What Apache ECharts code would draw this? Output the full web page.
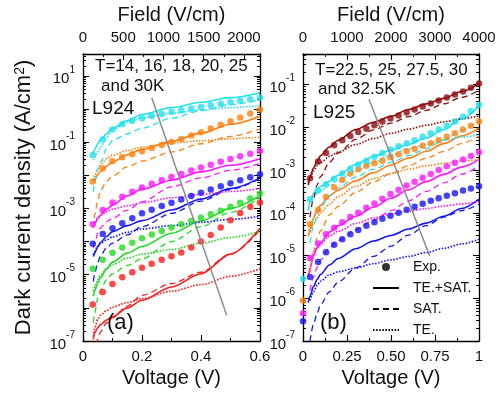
<!DOCTYPE html>
<html>
<head>
<meta charset="utf-8">
<script src="https://cdn.jsdelivr.net/npm/echarts@6/dist/echarts.min.js"></script>
<style>
  html, body { margin: 0; padding: 0; background: #fff; }
  #main { width: 503px; height: 394px; }
</style>
</head>
<body>
<div id="main"></div>
<script>
const FONT = '"Liberation Sans", Arial, Helvetica, sans-serif';

// ---------- panel (a): L924, T = 14, 16, 18, 20, 25, 30 K ----------
// all current values are log10 of J in A/cm2, one row per temperature
const colorsA = ['#ff1a1a', '#1fdc1f', '#1414ff', '#ff14ff', '#ff7f0e', '#1fe2ee'];
const vExpA = [0.033, 0.067, 0.1, 0.133, 0.167, 0.2, 0.233, 0.267, 0.3, 0.333, 0.367, 0.4, 0.433, 0.467, 0.5, 0.533, 0.567, 0.6];
const vFitA = [0.035, 0.04, 0.05, 0.06, 0.08, 0.1, 0.15, 0.2, 0.3, 0.4, 0.5, 0.6];
const expA = [
  [-5.9, -5.52, -5.28, -5.08, -4.93, -4.79, -4.67, -4.55, -4.44, -4.33, -4.18, -4.0, -3.8, -3.58, -3.36, -3.14, -2.95, -2.82],
  [-4.82, -4.55, -4.34, -4.18, -4.04, -3.9, -3.79, -3.68, -3.58, -3.48, -3.38, -3.28, -3.18, -3.07, -2.95, -2.83, -2.7, -2.55],
  [-4.07, -3.77, -3.6, -3.45, -3.3, -3.15, -3.04, -2.93, -2.83, -2.73, -2.63, -2.53, -2.43, -2.33, -2.24, -2.15, -2.06, -1.97],
  [-3.48, -3.05, -2.82, -2.65, -2.5, -2.37, -2.26, -2.15, -2.05, -1.96, -1.86, -1.77, -1.68, -1.59, -1.51, -1.43, -1.35, -1.27],
  [-2.19, -1.8, -1.58, -1.46, -1.37, -1.28, -1.18, -1.09, -1.0, -0.91, -0.8, -0.7, -0.59, -0.48, -0.37, -0.26, -0.14, -0.02],
  [-1.39, -0.92, -0.62, -0.46, -0.36, -0.28, -0.21, -0.15, -0.09, -0.04, 0.01, 0.06, 0.11, 0.16, 0.2, 0.25, 0.29, 0.34]
];
const teSatA = [
  [-6.9, -6.75, -6.6, -6.5, -6.37, -6.27, -6.0, -5.77, -5.37, -4.97, -4.38, -3.6],
  [-5.65, -5.48, -5.25, -5.08, -4.82, -4.62, -4.35, -4.15, -3.75, -3.38, -3.0, -2.62],
  [-4.45, -4.34, -4.15, -4.02, -3.85, -3.7, -3.52, -3.37, -3.05, -2.72, -2.4, -2.08],
  [-3.55, -3.45, -3.3, -3.2, -3.02, -2.9, -2.62, -2.42, -2.15, -1.9, -1.7, -1.5],
  [-2.2, -2.12, -1.98, -1.88, -1.72, -1.6, -1.38, -1.22, -0.98, -0.73, -0.46, -0.22],
  [-1.35, -1.22, -1.05, -0.92, -0.75, -0.58, -0.35, -0.17, 0.04, 0.2, 0.34, 0.49]
];
const satA = [
  [null, -7.4, -6.95, -6.72, -6.45, -6.3, -5.95, -5.62, -5.27, -4.92, -4.38, -3.65],
  [-6.45, -6.15, -5.7, -5.45, -5.15, -4.97, -4.72, -4.52, -4.0, -3.55, -3.12, -2.68],
  [-5.2, -4.95, -4.62, -4.42, -4.18, -4.05, -3.8, -3.55, -3.15, -2.78, -2.43, -2.1],
  [-4.2, -4.05, -3.75, -3.58, -3.4, -3.3, -3.05, -2.8, -2.35, -2.08, -1.85, -1.65],
  [-3.6, -3.18, -2.75, -2.45, -2.18, -2.02, -1.75, -1.57, -1.3, -1.05, -0.83, -0.6],
  [-2.5, -2.2, -1.85, -1.6, -1.2, -0.95, -0.75, -0.58, -0.28, -0.05, 0.13, 0.28]
];
const teA = [
  [-6.95, -6.6, -6.35, -6.22, -6.08, -5.98, -5.84, -5.72, -5.5, -5.3, -5.05, -4.82],
  [-5.5, -5.35, -5.15, -5.0, -4.82, -4.7, -4.5, -4.38, -4.24, -4.05, -3.88, -3.69],
  [-4.4, -4.3, -4.15, -4.05, -3.95, -3.86, -3.72, -3.62, -3.52, -3.42, -3.33, -3.24],
  [-3.5, -3.42, -3.3, -3.2, -3.1, -3.02, -2.92, -2.83, -2.68, -2.58, -2.49, -2.4],
  [-2.15, -2.0, -1.82, -1.68, -1.5, -1.4, -1.25, -1.15, -1.03, -0.96, -0.9, -0.85],
  [-1.55, -1.45, -1.3, -1.15, -0.85, -0.62, -0.4, -0.27, -0.13, -0.03, 0.04, 0.1]
];
const arrowA = [[0.487, -6.22], [0.233, 0.34]];

// ---------- panel (b): L925, T = 22.5, 25, 27.5, 30, 32.5 K ----------
const colorsB = ['#1414ff', '#ff14ff', '#ff7f0e', '#1fe2ee', '#8e0a0a'];
const vExpB = [0, 0.04, 0.086, 0.131, 0.177, 0.223, 0.269, 0.314, 0.36, 0.406, 0.451, 0.497, 0.543, 0.589, 0.634, 0.68, 0.726, 0.771, 0.817, 0.863, 0.909, 0.954, 1.0];
const vFitB = [0.03, 0.04, 0.06, 0.08, 0.1, 0.15, 0.2, 0.3, 0.4, 0.5, 0.6, 0.7, 0.8, 0.9, 1.0];
const expB = [
  [-6.54, -5.5, -5.15, -4.92, -4.75, -4.62, -4.5, -4.4, -4.3, -4.22, -4.14, -4.07, -4.0, -3.93, -3.86, -3.79, -3.72, -3.66, -3.6, -3.54, -3.48, -3.43, -3.38],
  [-6.35, -5.06, -4.72, -4.5, -4.35, -4.22, -4.1, -4.0, -3.88, -3.78, -3.67, -3.56, -3.46, -3.36, -3.27, -3.18, -3.09, -3.0, -2.91, -2.83, -2.75, -2.67, -2.58],
  [-6.05, -4.27, -3.93, -3.63, -3.4, -3.23, -3.08, -2.98, -2.9, -2.84, -2.78, -2.7, -2.63, -2.56, -2.5, -2.43, -2.37, -2.3, -2.22, -2.14, -2.05, -1.96, -1.86],
  [-5.55, -3.68, -3.48, -3.33, -3.2, -3.08, -2.97, -2.87, -2.78, -2.69, -2.6, -2.52, -2.44, -2.37, -2.3, -2.22, -2.14, -2.05, -1.96, -1.86, -1.75, -1.62, -1.47],
  [null, -3.19, -2.8, -2.6, -2.42, -2.3, -2.2, -2.11, -2.03, -1.95, -1.86, -1.79, -1.72, -1.65, -1.58, -1.51, -1.44, -1.37, -1.3, -1.23, -1.16, -1.07, -0.97]
];
const teSatB = [
  [-6.1, -5.95, -5.72, -5.56, -5.44, -5.22, -5.07, -4.84, -4.66, -4.53, -4.38, -4.24, -4.08, -3.9, -3.68],
  [-5.5, -5.29, -5.0, -4.82, -4.7, -4.45, -4.3, -4.08, -3.87, -3.66, -3.46, -3.27, -3.1, -2.93, -2.75],
  [-4.55, -4.37, -4.12, -3.95, -3.82, -3.6, -3.47, -3.25, -3.06, -2.88, -2.72, -2.56, -2.38, -2.2, -2.01],
  [-3.95, -3.72, -3.55, -3.45, -3.38, -3.26, -3.12, -2.87, -2.68, -2.53, -2.4, -2.25, -2.05, -1.8, -1.5],
  [-3.35, -3.15, -2.95, -2.8, -2.66, -2.46, -2.3, -2.05, -1.88, -1.74, -1.58, -1.45, -1.32, -1.16, -0.97]
];
const satB = [
  [null, -7.0, -6.6, -6.35, -6.15, -5.85, -5.62, -5.29, -5.02, -4.78, -4.52, -4.3, -4.1, -3.95, -3.8],
  [null, -5.82, -5.5, -5.28, -5.1, -4.82, -4.65, -4.4, -4.17, -3.95, -3.72, -3.5, -3.3, -3.1, -2.9],
  [null, -5.4, -4.9, -4.6, -4.42, -4.05, -3.85, -3.52, -3.28, -3.08, -2.9, -2.72, -2.56, -2.38, -2.2],
  [null, -4.7, -4.3, -4.05, -3.88, -3.6, -3.42, -3.16, -2.98, -2.82, -2.66, -2.5, -2.3, -2.08, -1.83],
  [null, -4.1, -3.65, -3.35, -3.15, -2.82, -2.6, -2.28, -2.06, -1.9, -1.75, -1.6, -1.45, -1.3, -1.13]
];
const teB = [
  [null, -6.05, -5.85, -5.7, -5.6, -5.45, -5.38, -5.29, -5.19, -5.1, -5.02, -4.93, -4.83, -4.73, -4.62],
  [null, -5.13, -4.95, -4.82, -4.72, -4.55, -4.43, -4.25, -4.12, -4.03, -3.96, -3.9, -3.84, -3.79, -3.74],
  [null, -4.44, -4.25, -4.12, -4.0, -3.8, -3.62, -3.38, -3.2, -3.08, -2.98, -2.9, -2.84, -2.79, -2.75],
  [null, -3.74, -3.62, -3.55, -3.48, -3.36, -3.24, -3.02, -2.82, -2.64, -2.5, -2.4, -2.3, -2.23, -2.17],
  [-3.3, -3.2, -3.02, -2.9, -2.82, -2.68, -2.58, -2.4, -2.26, -2.14, -2.04, -1.95, -1.87, -1.8, -1.73]
];
const arrowB = [[0.72, -5.01], [0.375, -1.34]];

const legendNames = ['Exp.', 'TE.+SAT.', 'SAT.', 'TE.'];

// ---------- helpers ----------
const lineKinds = {
  fit: { type: 'solid', width: 1.6 },
  sat: { type: [6, 4], width: 1.3 },
  te: { type: [1.5, 1.6], width: 1.7 }
};

function pts(xs, logs) {
  const out = [];
  xs.forEach((x, i) => {
    if (logs[i] != null) out.push([x, Math.pow(10, logs[i])]);
  });
  return out;
}

function panelSeries(ax, tag, colors, vExp, vFit, exp, teSat, sat, te) {
  const out = [];
  colors.forEach((c, i) => {
    [[teSat, 'fit'], [sat, 'sat'], [te, 'te']].forEach(([rows, kind]) => {
      out.push({
        name: tag + i + kind, type: 'line', xAxisIndex: ax, yAxisIndex: ax,
        smooth: 0.3, smoothMonotone: 'x', symbol: 'none', z: 2, silent: true,
        lineStyle: Object.assign({ color: c }, lineKinds[kind]),
        data: pts(vFit, rows[i])
      });
    });
    out.push({
      name: tag + i + 'exp', type: 'scatter', xAxisIndex: ax, yAxisIndex: ax,
      symbolSize: 6.5, z: 3, silent: true, itemStyle: { color: c },
      data: pts(vExp, exp[i])
    });
  });
  return out;
}

function arrowSeries(ax, arrow) {
  return {
    type: 'line', xAxisIndex: ax, yAxisIndex: ax, data: [], z: 4,
    markLine: {
      silent: true, symbol: ['none', 'arrow'], symbolSize: [0, 9],
      label: { show: false },
      lineStyle: { color: '#8c8c8c', width: 1.5, type: 'solid' },
      data: [[
        { coord: [arrow[0][0], Math.pow(10, arrow[0][1])] },
        { coord: [arrow[1][0], Math.pow(10, arrow[1][1])] }
      ]]
    }
  };
}

const axisLine = { onZero: false, lineStyle: { color: '#000', width: 1.3 } };
const tick = { inside: true, length: 6, lineStyle: { color: '#000', width: 1.1 } };
const minor = (n) => ({ show: true, splitNumber: n, length: 3, lineStyle: { color: '#000', width: 1 } });
const lbl = { color: '#111', fontSize: 15, fontFamily: FONT };
const titleStyle = { color: '#111', fontSize: 20, fontFamily: FONT };

function xBottom(grid, max, interval, fmt) {
  return {
    gridIndex: grid, type: 'value', position: 'bottom', min: 0, max: max, interval: interval,
    name: 'Voltage (V)', nameLocation: 'middle', nameGap: 27, nameTextStyle: titleStyle,
    axisLine: axisLine, axisTick: tick, minorTick: minor(2), splitLine: { show: false },
    axisLabel: Object.assign({ margin: 8, formatter: fmt }, lbl)
  };
}
function xTop(grid, max, interval) {
  return {
    gridIndex: grid, type: 'value', position: 'top', min: 0, max: max, interval: interval,
    name: 'Field (V/cm)', nameLocation: 'middle', nameGap: 28, nameTextStyle: titleStyle,
    axisLine: axisLine, axisTick: tick, minorTick: minor(2), splitLine: { show: false },
    axisLabel: Object.assign({ margin: 9, formatter: v => (v % interval === 0 ? String(v) : '') }, lbl)
  };
}
function supLabel(v, oddOnly) {
  const e = Math.log10(v);
  const n = Math.round(e);
  if (Math.abs(e - n) > 1e-6) return '';
  if (oddOnly && n % 2 === 0) return '';
  return '{b|10}{s|' + n + '}';
}
const supRich = {
  b: { fontSize: 15, fontFamily: FONT, color: '#111', lineHeight: 22, verticalAlign: 'bottom' },
  s: { fontSize: 10, fontFamily: FONT, color: '#111', lineHeight: 10, verticalAlign: 'top' }
};
function yLeft(grid, maxLog, oddOnly, withName) {
  const ax = {
    gridIndex: grid, type: 'log', logBase: 10, position: 'left', min: 1e-7, max: Math.pow(10, maxLog),
    axisLine: axisLine, axisTick: tick, minorTick: minor(9), splitLine: { show: false },
    axisLabel: { margin: 8, formatter: v => supLabel(v, oddOnly), rich: supRich }
  };
  if (withName) {
    Object.assign(ax, {
      name: 'Dark current density (A/cm{s|2})', nameLocation: 'middle', nameGap: 48,
      nameTextStyle: Object.assign({}, titleStyle, {
        fontSize: 22,
        rich: {
          s: { fontSize: 14, fontFamily: FONT, color: '#111', verticalAlign: 'top', lineHeight: 14 }
        }
      })
    });
  }
  return ax;
}
function yRight(grid, maxLog) {
  return {
    gridIndex: grid, type: 'log', logBase: 10, position: 'right', min: 1e-7, max: Math.pow(10, maxLog),
    axisLine: axisLine, axisTick: tick, minorTick: minor(9), splitLine: { show: false },
    axisLabel: { show: false }
  };
}

const series = []
  .concat(panelSeries(0, 'a', colorsA, vExpA, vFitA, expA, teSatA, satA, teA))
  .concat(panelSeries(2, 'b', colorsB, vExpB, vFitB, expB, teSatB, satB, teB));
series.push(arrowSeries(0, arrowA), arrowSeries(2, arrowB));
// black dummy series that only feed the legend
series.push({ name: legendNames[0], type: 'scatter', xAxisIndex: 2, yAxisIndex: 2, data: [], symbolSize: 7, itemStyle: { color: '#000' } });
legendNames.slice(1).forEach((nm, k) => {
  series.push({
    name: nm, type: 'line', xAxisIndex: 2, yAxisIndex: 2, data: [], symbol: 'none',
    itemStyle: { color: '#000', opacity: 0 },
    lineStyle: Object.assign({ color: '#000' }, lineKinds[['fit', 'sat', 'te'][k]])
  });
});

function note(x, y, text, size) {
  return {
    type: 'text', x: x, y: y, z: 10, silent: true,
    style: { text: text, fontSize: size, fontFamily: FONT, fill: '#111', align: 'left', verticalAlign: 'middle' }
  };
}

const chart = echarts.init(document.getElementById('main'), null, { renderer: 'canvas' });
chart.setOption({
  animation: false,
  backgroundColor: '#fff',
  grid: [
    { left: 83, top: 52, width: 177, height: 289 },
    { left: 303, top: 52, width: 176, height: 289 }
  ],
  xAxis: [
    xBottom(0, 0.6, 0.2, v => (v === 0 ? '0' : v.toFixed(1))),
    xTop(0, 2200, 500),
    xBottom(1, 1, 0.25, v => (v === 0 ? '0' : v === 1 ? '1' : v.toFixed(2))),
    xTop(1, 4000, 1000)
  ],
  yAxis: [
    yLeft(0, 1.66, true, true),
    yRight(0, 1.66),
    yLeft(1, -0.28, false, false),
    yRight(1, -0.28)
  ],
  legend: {
    data: legendNames, orient: 'vertical', left: 367, top: 255,
    itemWidth: 26, itemHeight: 8, itemGap: 7,
    textStyle: { fontSize: 14, fontFamily: FONT, color: '#111', padding: [0, 0, 0, 9] },
    selectedMode: false
  },
  graphic: [
    note(95, 66, 'T=14, 16, 18, 20, 25', 17),
    note(101, 86, 'and 30K', 17),
    note(92, 109, 'L924', 19),
    note(107, 323, '(a)', 22),
    note(315, 70, 'T=22.5, 25, 27.5, 30', 17),
    note(318, 89, 'and 32.5K', 17),
    note(313, 113, 'L925', 19),
    note(320, 323, '(b)', 22)
  ],
  series: series
});
</script>
</body>
</html>
